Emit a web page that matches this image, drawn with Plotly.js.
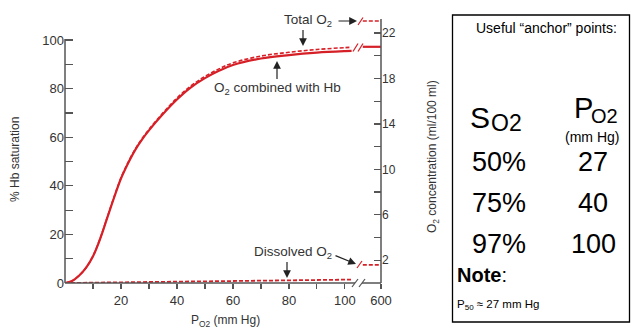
<!DOCTYPE html>
<html><head><meta charset="utf-8">
<script src="https://cdn.plot.ly/plotly-3.0.1.min.js"></script>
<style>html,body{margin:0;padding:0;background:#fff;}#chart{width:631px;height:332px;}</style>
</head><body><div id="chart"></div>
<script>
// ---- data ----
const pO2 = [0, 2.5, 5, 7.5, 10, 12.5, 15, 17.5, 20, 22.5, 25, 27.5, 30, 35, 40, 45, 50, 55, 60, 70, 80, 90, 100, 102.4];
// % Hb saturation (left axis)
const hbSat = [0, 0.8, 3, 6.2, 11, 18, 26.5, 35, 43, 49.2, 54.6, 59, 62.8, 69.5, 75.5, 80.5, 84.3, 87.3, 89.7, 92.4, 93.8, 94.8, 95.4, 95.5];
// total O2, ml/100 ml (right axis)
const totalO2 = [0, 0.18, 0.66, 1.35, 2.38, 3.89, 5.71, 7.54, 9.26, 10.59, 11.75, 12.7, 13.52, 14.97, 16.27, 17.35, 18.18, 18.84, 19.37, 19.97, 20.3, 20.55, 20.71, 20.74];
const dissolvedX = [0, 102.4];
const dissolvedO2 = [0, 0.3];
// segment drawn after the axis break (P_O2 = 600 mm Hg)
const breakX = [106.4, 112.9];
const hbSat600 = [97.2, 97.2];
const totalO2_600 = [23.05, 23.05];
const dissolved600 = [1.6, 1.6];
// tick labels
const xTickVals = [10, 20, 30, 40, 50, 60, 70, 80, 90, 100, 112.9];
const xTickText = ['', '20', '', '40', '', '60', '', '80', '', '100', '600'];
const yTickVals = [0, 10, 20, 30, 40, 50, 60, 70, 80, 90, 100];
const yTickText = ['0', '', '20', '', '40', '', '60', '', '80', '', '100'];
const y2TickVals = [2, 4, 6, 8, 10, 12, 14, 16, 18, 20, 22];
const y2TickText = ['2', '', '6', '', '10', '', '14', '', '18', '', '22'];
// anchor table
const so2Anchor = ['50%', '75%', '97%'];
const po2Anchor = ['27', '40', '100'];

// ---- layout helpers ----
const L = 65, R = 381, T = 18, B = 283;
const px = x => (x - L) / (R - L);
const py = y => (B - y) / (B - T);
const RED = '#d62027', AX = '#555', TXT = '#333';
const FONT = 'Arial, "Liberation Sans", sans-serif';

const solid = {color: RED, width: 2.2, shape: 'spline', smoothing: 1};
const dashed = {color: RED, width: 1.6, dash: '4px,2px', shape: 'spline', smoothing: 1};
const traces = [
  {x: pO2, y: totalO2, mode: 'lines', line: dashed, yaxis: 'y2', hoverinfo: 'skip'},
  {x: pO2, y: hbSat, mode: 'lines', line: solid, yaxis: 'y', hoverinfo: 'skip'},
  {x: breakX, y: hbSat600, mode: 'lines', line: {color: RED, width: 2.2}, yaxis: 'y', hoverinfo: 'skip'},
  {x: breakX, y: totalO2_600, mode: 'lines', line: {color: RED, width: 1.6, dash: '4px,2px'}, yaxis: 'y2', hoverinfo: 'skip'},
  {x: dissolvedX, y: dissolvedO2, mode: 'lines', line: {color: RED, width: 1.8, dash: '4px,2px'}, yaxis: 'y2', hoverinfo: 'skip'},
  {x: breakX, y: dissolved600, mode: 'lines', line: {color: RED, width: 1.8, dash: '4px,2px'}, yaxis: 'y2', hoverinfo: 'skip'}
];

function ln(x0, y0, x1, y1, color, w) {
  return {type: 'line', xref: 'paper', yref: 'paper', x0: px(x0), y0: py(y0), x1: px(x1), y1: py(y1),
          line: {color: color, width: w}, layer: 'above'};
}
const shapes = [
  ln(65, 283, 65, 39, AX, 1.5),      // left axis
  ln(381, 283, 381, 19, AX, 1.5),    // right axis
  ln(65, 283, 355, 283, AX, 1.5),    // x axis
  ln(362, 283, 381, 283, AX, 1.5),
  ln(352, 287, 358, 279, AX, 1.2),   // x axis break
  ln(359, 287, 365, 279, AX, 1.2),
  ln(353, 51.5, 358, 43.5, RED, 1.2),  // Hb / total break
  ln(358, 51.5, 363, 43.5, RED, 1.2),
  ln(358, 25, 363, 17.5, RED, 1.2),    // total O2 break
  ln(357, 268, 362, 261, RED, 1.2),    // dissolved break
  {type: 'rect', xref: 'paper', yref: 'paper', x0: px(452.5), x1: px(629.5), y0: py(15), y1: py(322),
   line: {color: '#000', width: 1.3}, layer: 'above'}
];

function txt(x, y, text, size, opts) {
  return Object.assign({xref: 'paper', yref: 'paper', x: px(x), y: py(y), text: text, showarrow: false,
    font: {family: FONT, size: size, color: TXT}, xanchor: 'center', yanchor: 'middle'}, opts || {});
}
function arrow(hx, hy, tx, ty) {
  return {xref: 'paper', yref: 'paper', x: px(hx), y: py(hy), ax: tx - hx, ay: ty - hy, text: ' ',
    showarrow: true, arrowhead: 2, arrowsize: 1.3, arrowwidth: 1.2, arrowcolor: '#222', standoff: 0, startstandoff: 0,
    font: {size: 1}};
}
const blk = (s, extra) => Object.assign({font: {family: FONT, size: s, color: '#000'}}, extra || {});
const annotations = [
  txt(15, 160, '% Hb saturation', 12, {textangle: -90}),
  txt(225, 321, 'P<sub>O2</sub> (mm Hg)', 12),
  txt(433, 157, 'O<sub>2</sub> concentration (ml/100 ml)', 12, {textangle: -90}),
  txt(308, 20, 'Total O<sub>2</sub>', 13.5),
  arrow(357, 21, 337, 21),
  arrow(303, 46, 303, 28),
  txt(277, 88, 'O<sub>2</sub> combined with Hb', 13.5),
  arrow(277, 61, 277, 81),
  txt(293, 252, 'Dissolved O<sub>2</sub>', 13.5),
  arrow(287, 278, 287, 260),
  arrow(356, 264, 334, 255),
  // anchor box
  txt(546, 28, 'Useful \u201canchor\u201d points:', 14, blk(14)),
  txt(480, 117, 'S', 30, blk(30)),
  txt(507, 123, 'O2', 23, blk(23)),
  txt(583, 108, 'P', 29, blk(29)),
  txt(604, 116, 'O2', 20, blk(20)),
  txt(592, 137, '(mm Hg)', 14, blk(14)),
  txt(455, 275, '<b>Note</b>:', 20, blk(20, {xanchor: 'left'})),
  txt(455, 305, 'P<sub>50</sub> \u2248 27 mm Hg', 11.5, blk(11.5, {xanchor: 'left'}))
];
const rowY = [162, 203, 244];
so2Anchor.forEach((s, i) => annotations.push(txt(499, rowY[i], s, 27, blk(27))));
po2Anchor.forEach((s, i) => annotations.push(txt(593, rowY[i], s, 27, blk(27))));

const layout = {
  width: 631, height: 332,
  margin: {l: L, r: 631 - R, t: T, b: 332 - B, pad: 0},
  paper_bgcolor: '#fff', plot_bgcolor: '#fff',
  showlegend: false,
  font: {family: FONT, color: TXT},
  xaxis: {range: [0, 112.9], showline: false, zeroline: false, showgrid: false,
          tickmode: 'array', tickvals: xTickVals, ticktext: xTickText,
          ticks: 'outside', ticklen: 5, tickwidth: 1.2, tickcolor: AX,
          tickfont: {family: FONT, size: 13, color: TXT}, fixedrange: true},
  yaxis: {range: [0, 265 / 2.43], showline: false, zeroline: false, showgrid: false,
          tickmode: 'array', tickvals: yTickVals, ticktext: yTickText,
          ticks: 'inside', ticklen: 8, tickwidth: 1.2, tickcolor: AX,
          tickfont: {family: FONT, size: 13, color: TXT}, fixedrange: true},
  yaxis2: {range: [0, 265 / 11.364], overlaying: 'y', side: 'right', showline: false, zeroline: false, showgrid: false,
          tickmode: 'array', tickvals: y2TickVals, ticktext: y2TickText,
          ticks: 'inside', ticklen: 7, tickwidth: 1.2, tickcolor: AX,
          tickfont: {family: FONT, size: 12, color: TXT}, fixedrange: true},
  shapes: shapes,
  annotations: annotations
};
Plotly.newPlot('chart', traces, layout, {displayModeBar: false, staticPlot: true});
</script></body></html>
